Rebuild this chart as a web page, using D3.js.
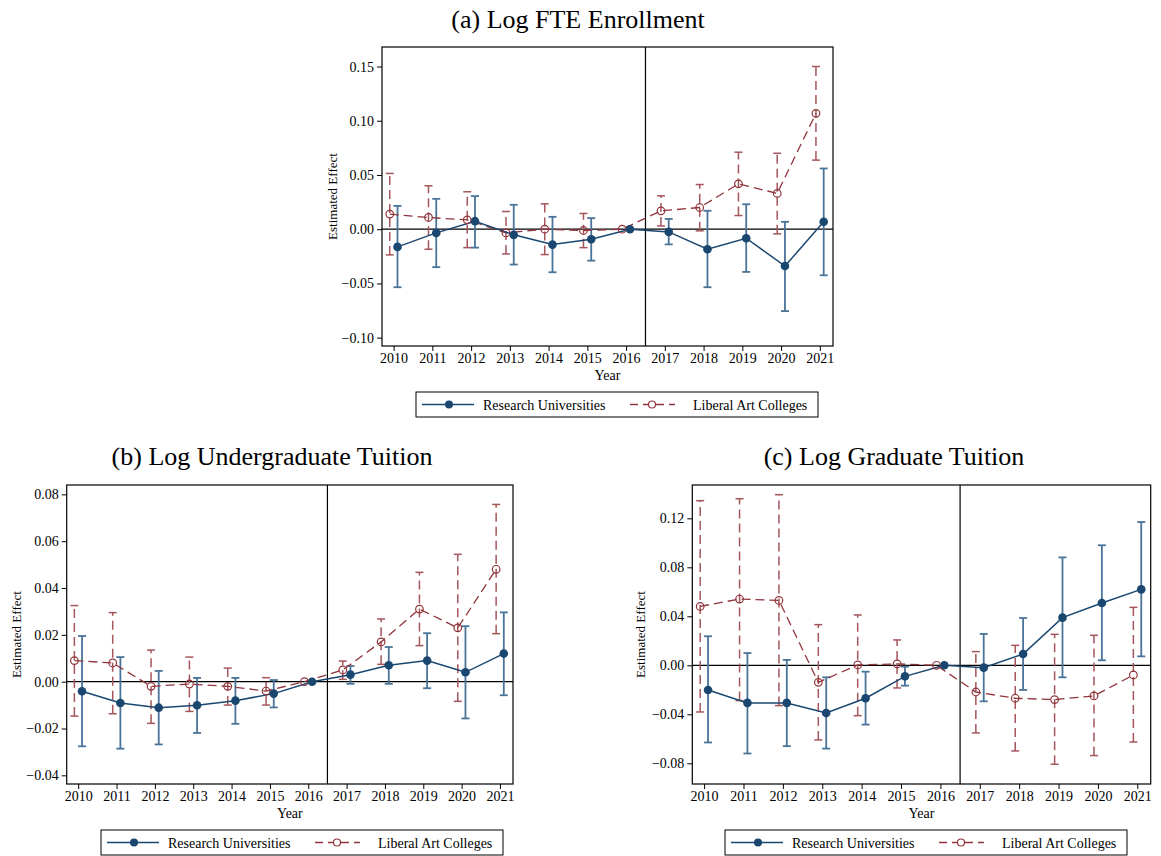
<!DOCTYPE html>
<html>
<head>
<meta charset="utf-8">
<script src="https://cdn.jsdelivr.net/npm/d3@7"></script>
<style>
  body { margin: 0; background: #fff; }
  text { font-family: "Liberation Serif", "Times New Roman", serif; fill: #000; }
</style>
</head>
<body>
<div id="chart-area"></div>
<script>
// event-study estimates
var years = [2010, 2011, 2012, 2013, 2014, 2015, 2016, 2017, 2018, 2019, 2020, 2021];

// (a) Log FTE Enrollment
var fteRU    = [-0.0163, -0.0034, 0.0074, -0.0052, -0.0142, -0.0092, 0, -0.0025, -0.0185, -0.0083, -0.034, 0.0068];
var fteRULo  = [-0.0535, -0.035, -0.017, -0.0326, -0.0397, -0.029, 0, -0.014, -0.0535, -0.0394, -0.0755, -0.0425];
var fteRUHi  = [0.0215, 0.028, 0.0305, 0.0225, 0.0114, 0.0102, 0, 0.0095, 0.017, 0.023, 0.0068, 0.056];
var fteLAC   = [0.0139, 0.0108, 0.0086, -0.0034, 0, -0.0012, 0, 0.0169, 0.02, 0.0418, 0.033, 0.1068];
var fteLACLo = [-0.0237, -0.0185, -0.017, -0.0228, -0.0234, -0.017, 0, 0.003, -0.0015, 0.0126, -0.0043, 0.0637];
var fteLACHi = [0.0514, 0.040, 0.0345, 0.0163, 0.0234, 0.0145, 0, 0.0308, 0.0412, 0.071, 0.070, 0.150];
var fteTicks = [-0.10, -0.05, 0, 0.05, 0.10, 0.15];

// (b) Log Undergraduate Tuition
var ugRU    = [-0.0041, -0.0091, -0.0111, -0.0101, -0.0081, -0.0051, 0, 0.003, 0.007, 0.009, 0.004, 0.012];
var ugRULo  = [-0.0276, -0.0286, -0.0268, -0.0219, -0.018, -0.011, 0, -0.0009, -0.0009, -0.0028, -0.0157, -0.0058];
var ugRUHi  = [0.0195, 0.0105, 0.0046, 0.0016, 0.0016, 0.0007, 0, 0.0067, 0.0148, 0.0207, 0.0237, 0.0296];
var ugLAC   = [0.009, 0.008, -0.002, -0.001, -0.002, -0.004, 0, 0.005, 0.017, 0.031, 0.023, 0.048];
var ugLACLo = [-0.0147, -0.0137, -0.0178, -0.0127, -0.010, -0.010, 0, 0.001, 0.0074, 0.0154, -0.0084, 0.0205];
var ugLACHi = [0.0325, 0.0295, 0.0135, 0.0105, 0.0058, 0.0017, 0, 0.0088, 0.0268, 0.0467, 0.0544, 0.0757];
var ugTicks = [-0.04, -0.02, 0, 0.02, 0.04, 0.06, 0.08];

// (c) Log Graduate Tuition
var grRU    = [-0.0201, -0.0307, -0.0307, -0.0389, -0.0269, -0.009, 0, -0.0019, 0.0092, 0.0389, 0.0509, 0.062];
var grRULo  = [-0.063, -0.072, -0.066, -0.068, -0.0484, -0.0166, 0, -0.0294, -0.0201, -0.0098, 0.0041, 0.0073];
var grRUHi  = [0.0237, 0.010, 0.0044, -0.0098, -0.0052, -0.0011, 0, 0.0256, 0.0386, 0.0881, 0.098, 0.117];
var grLAC   = [0.0481, 0.0541, 0.053, -0.0139, 0.0003, 0.0011, 0, -0.0218, -0.0269, -0.028, -0.025, -0.0079];
var grLACLo = [-0.0381, -0.0288, -0.0329, -0.0609, -0.0411, -0.0185, 0, -0.0552, -0.0699, -0.0808, -0.0737, -0.0626];
var grLACHi = [0.1344, 0.136, 0.1393, 0.0332, 0.0411, 0.0207, 0, 0.0112, 0.0163, 0.0253, 0.0245, 0.0473];
var grTicks = [-0.08, -0.04, 0, 0.04, 0.08, 0.12];

var seriesNames = ['Research Universities', 'Liberal Art Colleges'];

var ruColor = '#1a476f', ruCI = '#4a7399';
var lacColor = '#90353b', lacCI = '#a4565b';

var svg = d3.select('#chart-area').append('svg')
            .attr('width', 1161)
            .attr('height', 856);

function drawPanel(p) {
  var x = d3.scaleLinear().domain([2009.7, 2021.34]).range([p.left, p.right]);
  var y = d3.scaleLinear().domain(p.yDomain).range([p.bottom, p.top]);
  var g = svg.append('g');

  // title
  g.append('text')
   .attr('x', p.titleX).attr('y', p.titleY)
   .attr('text-anchor', 'middle')
   .attr('font-size', '26px')
   .text(p.title);

  // axes
  var yAxis = d3.axisLeft(y).tickValues(p.ticks).tickSize(5).tickPadding(3)
                .tickFormat(d3.format('.2f'));
  g.append('g').attr('transform', 'translate(' + p.left + ',0)').call(yAxis);
  var xAxis = d3.axisBottom(x).tickValues(years).tickSize(5).tickPadding(2)
                .tickFormat(d3.format('d'));
  g.append('g').attr('transform', 'translate(0,' + p.bottom + ')').call(xAxis);
  g.selectAll('.domain').remove();
  g.selectAll('.tick line').attr('stroke', '#000');
  g.selectAll('.tick text').attr('font-size', '14px')
   .style('font-family', '"Liberation Serif", serif').attr('fill', '#000');

  // frame
  g.append('rect')
   .attr('x', p.left).attr('y', p.top)
   .attr('width', p.right - p.left).attr('height', p.bottom - p.top)
   .attr('fill', 'none').attr('stroke', '#000').attr('stroke-width', 1.2);

  // reference lines
  g.append('line')
   .attr('x1', p.left).attr('x2', p.right)
   .attr('y1', y(0)).attr('y2', y(0))
   .attr('stroke', '#000').attr('stroke-width', 1.2);
  g.append('line')
   .attr('x1', x(2016.5)).attr('x2', x(2016.5))
   .attr('y1', p.top).attr('y2', p.bottom)
   .attr('stroke', '#000').attr('stroke-width', 1.2);

  // axis titles
  g.append('text')
   .attr('transform', 'translate(' + p.ylabX + ',' + ((p.top + p.bottom) / 2) + ') rotate(-90)')
   .attr('text-anchor', 'middle')
   .attr('font-size', '13px')
   .text('Estimated Effect');
  g.append('text')
   .attr('x', (p.left + p.right) / 2).attr('y', p.bottom + 34)
   .attr('text-anchor', 'middle')
   .attr('font-size', '14px')
   .text('Year');

  var ruRows = years.map(function(yr, i) {
    return {x: yr + 0.1, b: p.ru[i], lo: p.ruLo[i], hi: p.ruHi[i]};
  });
  var lacRows = years.map(function(yr, i) {
    return {x: yr - 0.1, b: p.lac[i], lo: p.lacLo[i], hi: p.lacHi[i]};
  });

  // confidence intervals
  function caps(rows, color, dash, width) {
    var ci = g.append('g');
    rows.filter(function(d) { return d.hi !== d.lo; }).forEach(function(d) {
      ci.append('line')
        .attr('x1', x(d.x)).attr('x2', x(d.x))
        .attr('y1', y(d.lo)).attr('y2', y(d.hi))
        .attr('stroke', color).attr('stroke-width', width)
        .attr('stroke-dasharray', dash);
      [d.lo, d.hi].forEach(function(v) {
        ci.append('line')
          .attr('x1', x(d.x) - 4).attr('x2', x(d.x) + 4)
          .attr('y1', y(v)).attr('y2', y(v))
          .attr('stroke', color).attr('stroke-width', width);
      });
    });
  }
  caps(lacRows, lacCI, '9,5', 1.5);
  caps(ruRows, ruCI, null, 1.8);

  var line = d3.line().x(function(d) { return x(d.x); }).y(function(d) { return y(d.b); });
  g.append('path').datum(lacRows).attr('d', line)
   .attr('fill', 'none').attr('stroke', lacColor).attr('stroke-width', 1.3)
   .attr('stroke-dasharray', '9,5');
  g.append('path').datum(ruRows).attr('d', line)
   .attr('fill', 'none').attr('stroke', ruColor).attr('stroke-width', 1.5);

  g.selectAll('.lac').data(lacRows).enter().append('circle')
   .attr('cx', function(d) { return x(d.x); })
   .attr('cy', function(d) { return y(d.b); })
   .attr('r', 3.8).attr('fill', 'none')
   .attr('stroke', lacColor).attr('stroke-width', 1.2);
  g.selectAll('.ru').data(ruRows).enter().append('circle')
   .attr('cx', function(d) { return x(d.x); })
   .attr('cy', function(d) { return y(d.b); })
   .attr('r', 4.3).attr('fill', ruColor);

  // legend
  var lg = svg.append('g').attr('transform', 'translate(' + p.legX + ',' + p.legY + ')');
  lg.append('rect').attr('width', 402).attr('height', 25)
    .attr('fill', '#fff').attr('stroke', '#000').attr('stroke-width', 1);
  lg.append('line').attr('x1', 6).attr('x2', 58).attr('y1', 12.5).attr('y2', 12.5)
    .attr('stroke', ruColor).attr('stroke-width', 1.5);
  lg.append('circle').attr('cx', 33).attr('cy', 12.5).attr('r', 4).attr('fill', ruColor);
  lg.append('text').attr('x', 67).attr('y', 17.5).attr('font-size', '14px').text(seriesNames[0]);
  lg.append('line').attr('x1', 214).attr('x2', 259).attr('y1', 12.5).attr('y2', 12.5)
    .attr('stroke', lacColor).attr('stroke-width', 1.3).attr('stroke-dasharray', '8,5');
  lg.append('circle').attr('cx', 236).attr('cy', 12.5).attr('r', 3.5)
    .attr('fill', '#fff').attr('stroke', lacColor).attr('stroke-width', 1.2);
  lg.append('text').attr('x', 277).attr('y', 17.5).attr('font-size', '14px').text(seriesNames[1]);
}

drawPanel({
  title: '(a) Log FTE Enrollment', titleX: 578, titleY: 28,
  left: 382, right: 833, top: 47, bottom: 346,
  yDomain: [-0.1077, 0.168], ticks: fteTicks, ylabX: 337,
  ru: fteRU, ruLo: fteRULo, ruHi: fteRUHi, lac: fteLAC, lacLo: fteLACLo, lacHi: fteLACHi,
  legX: 416, legY: 392
});
drawPanel({
  title: '(b) Log Undergraduate Tuition', titleX: 272, titleY: 465,
  left: 66.7, right: 513, top: 485, bottom: 784,
  yDomain: [-0.0437, 0.084], ticks: ugTicks, ylabX: 21,
  ru: ugRU, ruLo: ugRULo, ruHi: ugRUHi, lac: ugLAC, lacLo: ugLACLo, lacHi: ugLACHi,
  legX: 101, legY: 830
});
drawPanel({
  title: '(c) Log Graduate Tuition', titleX: 894, titleY: 465,
  left: 692.3, right: 1150.7, top: 485, bottom: 784,
  yDomain: [-0.0969, 0.1472], ticks: grTicks, ylabX: 645,
  ru: grRU, ruLo: grRULo, ruHi: grRUHi, lac: grLAC, lacLo: grLACLo, lacHi: grLACHi,
  legX: 725, legY: 830
});
</script>
</body>
</html>
